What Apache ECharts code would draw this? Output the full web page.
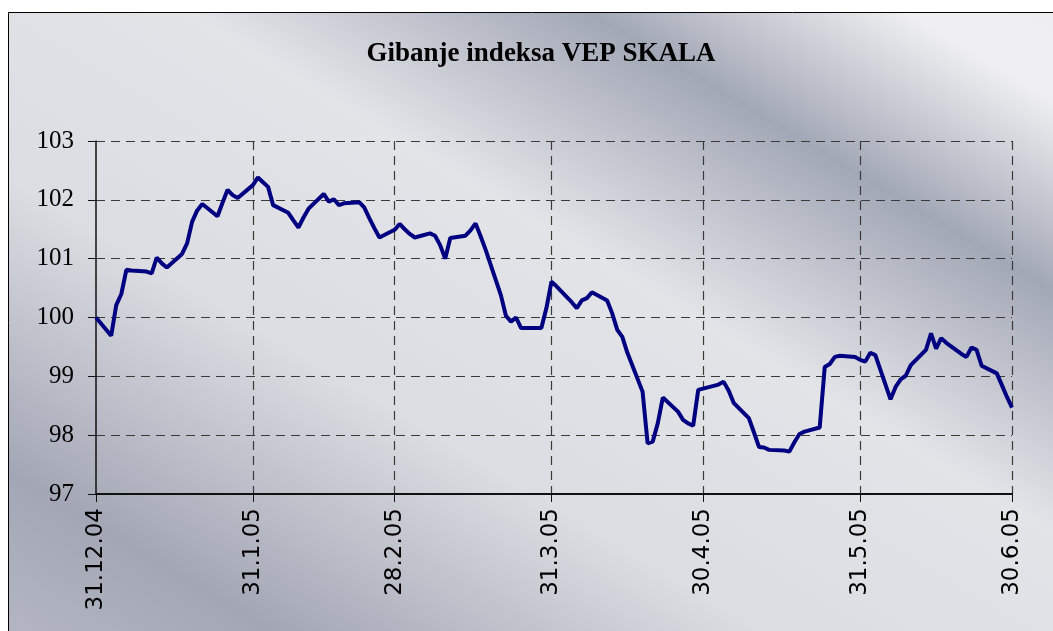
<!DOCTYPE html>
<html>
<head>
<meta charset="utf-8">
<script src="https://cdn.jsdelivr.net/npm/echarts@6/dist/echarts.min.js"></script>
<style>
  html, body { margin: 0; padding: 0; background: #fff; }
  #chart { width: 1053px; height: 631px; }
</style>
</head>
<body>
<div id="chart"></div>
<script>
// trading days and index values
const dates = [
  '31.12.04','3.1.05','4.1.05','5.1.05','6.1.05','7.1.05','10.1.05','11.1.05','12.1.05','13.1.05','14.1.05',
  '17.1.05','18.1.05','19.1.05','20.1.05','21.1.05','24.1.05','25.1.05','26.1.05','27.1.05','28.1.05','31.1.05',
  '1.2.05','2.2.05','3.2.05','4.2.05','7.2.05','8.2.05','9.2.05','10.2.05','11.2.05','14.2.05','15.2.05','16.2.05',
  '17.2.05','18.2.05','21.2.05','22.2.05','23.2.05','24.2.05','25.2.05','28.2.05',
  '1.3.05','2.3.05','3.3.05','4.3.05','7.3.05','8.3.05','9.3.05','10.3.05','11.3.05','14.3.05','15.3.05','16.3.05',
  '17.3.05','18.3.05','21.3.05','22.3.05','23.3.05','24.3.05','25.3.05','29.3.05','30.3.05','31.3.05',
  '1.4.05','4.4.05','5.4.05','6.4.05','7.4.05','8.4.05','11.4.05','12.4.05','13.4.05','14.4.05','15.4.05',
  '18.4.05','19.4.05','20.4.05','21.4.05','22.4.05','25.4.05','26.4.05','27.4.05','28.4.05','29.4.05',
  '3.5.05','4.5.05','5.5.05','6.5.05','9.5.05','10.5.05','11.5.05','12.5.05','13.5.05','16.5.05','17.5.05',
  '18.5.05','19.5.05','20.5.05','23.5.05','24.5.05','25.5.05','26.5.05','27.5.05','30.5.05','31.5.05',
  '1.6.05','2.6.05','3.6.05','6.6.05','7.6.05','8.6.05','9.6.05','10.6.05','13.6.05','14.6.05','15.6.05',
  '16.6.05','17.6.05','20.6.05','21.6.05','22.6.05','23.6.05','24.6.05','27.6.05','28.6.05','29.6.05','30.6.05'
];
const values = [
  100.00, 99.69, 100.21, 100.40, 100.81, 100.80, 100.78, 100.75, 101.02, 100.92, 100.85,
  101.08, 101.26, 101.63, 101.82, 101.93, 101.72, 101.95, 102.17, 102.08, 102.03, 102.25,
  102.38, 102.30, 102.22, 101.91, 101.78, 101.65, 101.53, 101.70, 101.85, 102.10, 101.97, 102.01,
  101.91, 101.94, 101.96, 101.87, 101.69, 101.52, 101.36, 101.49,
  101.59, 101.50, 101.42, 101.36, 101.43, 101.39, 101.23, 101.00, 101.35, 101.39, 101.48, 101.60,
  101.38, 101.15, 100.38, 100.03, 99.93, 100.00, 99.82, 99.82, 100.16, 100.61,
  100.53, 100.26, 100.16, 100.29, 100.33, 100.43, 100.29, 100.07, 99.79, 99.67, 99.40,
  98.74, 97.86, 97.89, 98.20, 98.64, 98.40, 98.26, 98.20, 98.16, 98.77,
  98.86, 98.91, 98.76, 98.55, 98.29, 98.05, 97.80, 97.79, 97.75, 97.74, 97.72,
  97.88, 98.02, 98.06, 98.13, 99.16, 99.21, 99.33, 99.35, 99.33, 99.28,
  99.25, 99.40, 99.36, 98.61, 98.82, 98.95, 99.01, 99.19, 99.45, 99.73, 99.47,
  99.65, 99.57, 99.38, 99.33, 99.49, 99.45, 99.18, 99.05, 98.85, 98.65, 98.47
];
const tickLabels = ['31.12.04','31.1.05','28.2.05','31.3.05','30.4.05','31.5.05','30.6.05'];

// calendar days on the axis
const days = [];
for (let d = new Date(2004, 11, 31); d <= new Date(2005, 5, 30); d.setDate(d.getDate() + 1)) {
  days.push(d.getDate() + '.' + (d.getMonth() + 1) + '.' + String(d.getFullYear()).slice(2));
}
const lookup = {};
dates.forEach((d, i) => { lookup[d] = values[i]; });
const seriesData = days.map(d => (d in lookup ? lookup[d] : null));

const isTick = (idx, val) => tickLabels.indexOf(val) >= 0;
const isGrid = (idx, val) => idx > 0 && tickLabels.indexOf(val) >= 0;

const chart = echarts.init(document.getElementById('chart'));
chart.setOption({
  backgroundColor: '#fff',
  animation: false,
  graphic: {
    elements: [{
      type: 'rect',
      z: -10,
      silent: true,
      shape: { x: 8.5, y: 12.5, width: 1200, height: 800 },
      style: {
        stroke: '#000',
        lineWidth: 1,
        fill: new echarts.graphic.LinearGradient(804, -149, 248, 779, [
          { offset: 0, color: '#eeeef0' },
          { offset: 0.08, color: '#efeff1' },
          { offset: 0.23, color: '#a3a8b6' },
          { offset: 0.42, color: '#e3e4e8' },
          { offset: 0.64, color: '#dcdde2' },
          { offset: 0.87, color: '#a3a7b5' },
          { offset: 1, color: '#b3b6c2' }
        ], true)
      }
    }]
  },
  title: {
    text: 'Gibanje indeksa VEP SKALA',
    left: 536,
    top: 36,
    textAlign: 'center',
    textStyle: { fontFamily: 'Liberation Serif', fontWeight: 'bold', fontSize: 27, color: '#000' }
  },
  grid: { left: 96, right: 41, top: 141, bottom: 137 },
  xAxis: {
    type: 'category',
    data: days,
    boundaryGap: false,
    axisLine: { lineStyle: { color: '#111', width: 2 } },
    axisTick: { interval: isTick, length: 8, lineStyle: { color: '#111' } },
    axisLabel: {
      interval: isTick,
      rotate: 90,
      margin: 14,
      fontFamily: 'DejaVu Sans',
      fontSize: 23,
      color: '#000'
    },
    splitLine: {
      show: true,
      interval: isGrid,
      lineStyle: { color: '#3a3a3a', type: [9, 6], width: 1.2 }
    }
  },
  yAxis: {
    type: 'value',
    min: 97,
    max: 103,
    interval: 1,
    axisLine: { show: true, lineStyle: { color: '#111', width: 1.5 } },
    axisTick: { show: true, length: 8, lineStyle: { color: '#111' } },
    axisLabel: { margin: 22, fontFamily: 'Liberation Serif', fontSize: 25, color: '#000' },
    splitLine: { lineStyle: { color: '#3a3a3a', type: [9, 6], width: 1.2 } }
  },
  series: [{
    type: 'line',
    data: seriesData,
    connectNulls: true,
    showSymbol: false,
    symbol: 'none',
    lineStyle: { color: '#000080', width: 4 }
  }]
});
</script>
</body>
</html>
